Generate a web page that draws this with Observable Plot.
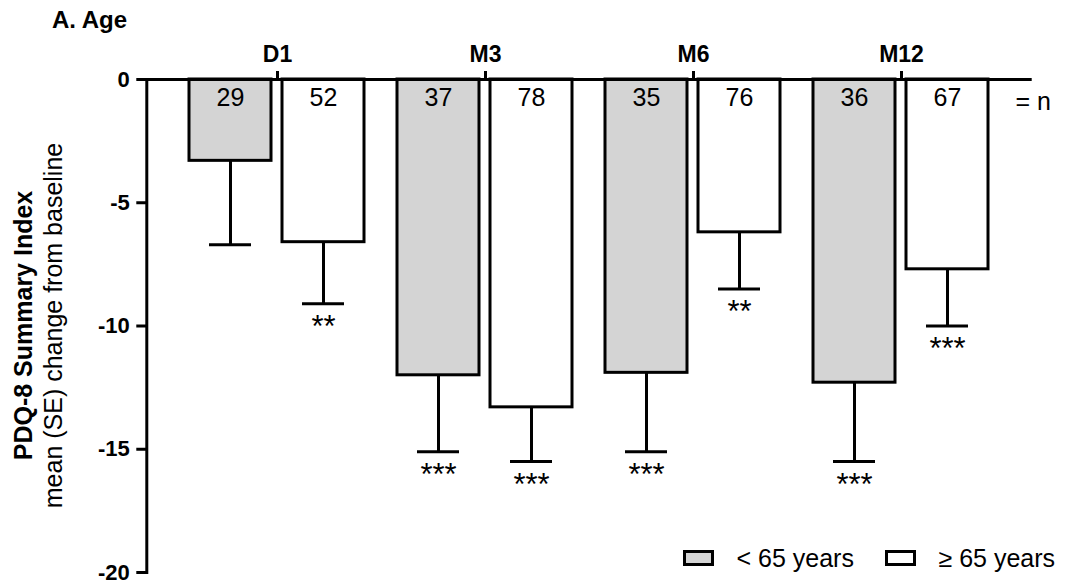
<!DOCTYPE html>
<html>
<head>
<meta charset="utf-8">
<script src="https://cdn.jsdelivr.net/npm/d3@7"></script>
<script src="https://cdn.jsdelivr.net/npm/@observablehq/plot@0.6"></script>
<style>
  body { margin: 0; background: #fff; }
  #chart { position: relative; width: 1065px; height: 583px; font-family: "Liberation Sans", Arial, sans-serif; }
  #chart svg { position: absolute; left: 0; top: 0; }
</style>
</head>
<body>
<div id="chart"></div>
<script>
// Visits and age groups
const visits = ["D1", "M3", "M6", "M12"];
const groups = ["< 65 years", "≥ 65 years"];

// PDQ-8 Summary Index: mean change from baseline and its SE, per visit
const meanUnder65 = [-3.3, -12.0, -11.9, -12.3];
const seUnder65   = [3.4, 3.1, 3.2, 3.2];
const nUnder65    = [29, 37, 35, 36];
const sigUnder65  = ["", "***", "***", "***"];

const meanOver65 = [-6.6, -13.3, -6.2, -7.7];
const seOver65   = [2.5, 2.2, 2.3, 2.3];
const nOver65    = [52, 78, 76, 67];
const sigOver65  = ["**", "***", "**", "***"];

const yTicks = [0, -5, -10, -15, -20];

const rows = visits.flatMap((visit, i) => [
  {visit, group: groups[0], mean: meanUnder65[i], se: seUnder65[i], n: nUnder65[i], sig: sigUnder65[i]},
  {visit, group: groups[1], mean: meanOver65[i], se: seOver65[i], n: nOver65[i], sig: sigOver65[i]}
]);
rows.forEach(d => { d.low = d.mean - d.se; });

const width = 1065, height = 583;
const marginLeft = 145, marginRight = 32, marginTop = 79, marginBottom = 11;
const fxPadOuter = 0.128;
const fxStep = (width - marginLeft - marginRight) / (visits.length + 2 * fxPadOuter);
const outer = fxPadOuter * fxStep; // gap between the y axis and the first facet
const fills = ["#d4d4d4", "#ffffff"];
const fontFamily = '"Liberation Sans", Arial, sans-serif';

const plot = Plot.plot({
  width, height, marginLeft, marginRight, marginTop, marginBottom,
  style: {fontFamily, color: "black", background: "white", overflow: "visible"},
  fx: {domain: visits, paddingInner: 0, paddingOuter: fxPadOuter, label: null},
  x: {domain: groups, paddingInner: 0.117, paddingOuter: 0.168, axis: null},
  y: {domain: [-20, 0], label: null},
  color: {domain: groups, range: fills},
  marks: [
    Plot.barY(rows, {fx: "visit", x: "group", y: "mean", fill: "group", stroke: "black", strokeWidth: 3}),
    Plot.ruleX(rows, {fx: "visit", x: "group", y1: "mean", y2: "low", strokeWidth: 3}),
    Plot.tickY(rows, {fx: "visit", x: "group", y: "low", strokeWidth: 3, insetLeft: 20, insetRight: 20}),
    Plot.text(rows, {fx: "visit", x: "group", y: "low", text: "sig", lineAnchor: "top", dy: 11, fontSize: 31}),
    Plot.text(rows, {fx: "visit", x: "group", frameAnchor: "top", text: "n", lineAnchor: "top", dy: 9, fontSize: 25}),
    Plot.text([{visit: visits[visits.length - 1], label: "= n"}], {
      fx: "visit", text: "label", frameAnchor: "top-right", textAnchor: "start",
      lineAnchor: "top", dx: 10, dy: 13, fontSize: 25
    }),
    Plot.ruleY([0], {strokeWidth: 3, insetLeft: -outer, insetRight: -outer}),
    Plot.frame({anchor: "left", facetAnchor: "left", dx: -outer, strokeWidth: 3}),
    Plot.axisY({
      ticks: yTicks, tickSize: 10, tickPadding: 7, tickFormat: d => String(d),
      fontSize: 22, fontWeight: "bold", strokeWidth: 3, dx: -outer, label: null
    }),
    Plot.axisFx({anchor: "top", tickSize: 9, tickPadding: 9, fontSize: 23, fontWeight: "bold", strokeWidth: 3, label: null})
  ]
});

const chart = document.getElementById("chart");
chart.appendChild(plot);

// Title, y-axis title and legend
const overlay = d3.select(chart).append("svg")
  .attr("width", width).attr("height", height)
  .style("pointer-events", "none")
  .attr("font-family", fontFamily);

overlay.append("text")
  .attr("x", 52).attr("y", 28)
  .attr("font-size", 24).attr("font-weight", "bold")
  .text("A. Age");

const yMid = (marginTop + height - marginBottom) / 2;
overlay.append("text")
  .attr("transform", `translate(32,${yMid}) rotate(-90)`)
  .attr("text-anchor", "middle").attr("font-size", 25).attr("font-weight", "bold")
  .text("PDQ-8 Summary Index");
overlay.append("text")
  .attr("transform", `translate(62,${yMid}) rotate(-90)`)
  .attr("text-anchor", "middle").attr("font-size", 25)
  .text("mean (SE) change from baseline");

const legendX = [684.5, 886.5];
const legend = overlay.append("g");
groups.forEach((g, i) => {
  legend.append("rect")
    .attr("x", legendX[i]).attr("y", 551.5).attr("width", 28).attr("height", 13)
    .attr("fill", fills[i]).attr("stroke", "black").attr("stroke-width", 3);
  legend.append("text")
    .attr("x", legendX[i] + 52).attr("y", 567)
    .attr("font-size", 25)
    .text(g);
});
</script>
</body>
</html>
